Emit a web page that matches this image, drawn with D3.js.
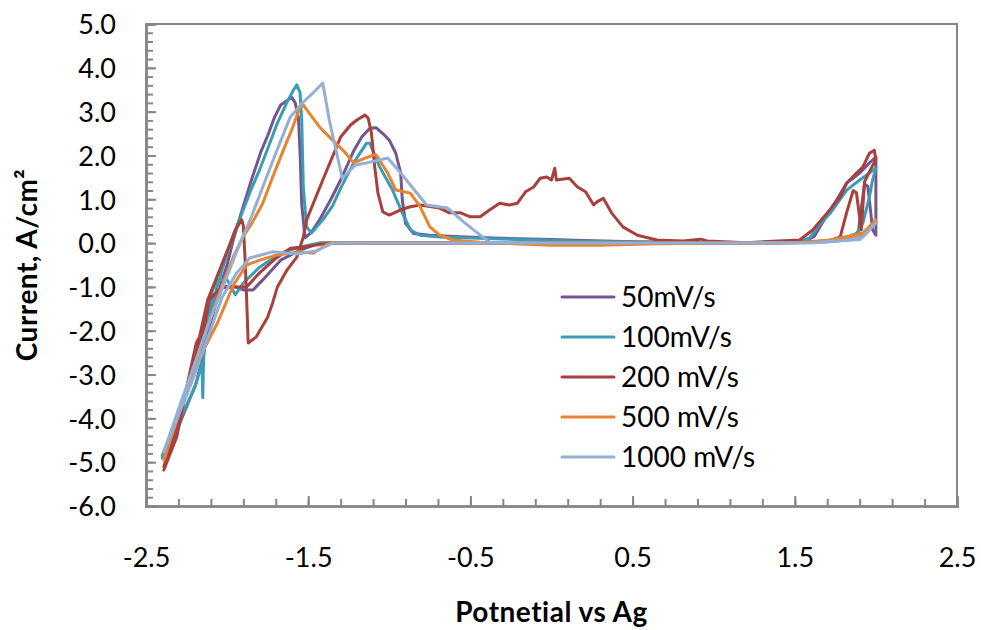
<!DOCTYPE html>
<html>
<head>
<meta charset="utf-8">
<script src="https://cdn.jsdelivr.net/npm/d3@7/dist/d3.min.js"></script>
<style>
  html, body { margin: 0; padding: 0; background: #fff; }
  svg { display: block; font-family: Lato, "Open Sans", sans-serif; }
</style>
</head>
<body>
<svg id="chart" width="981" height="630"></svg>
<script>
// Cyclic voltammograms at several scan rates: [potential vs Ag (V), current (A/cm²)]
const cv50 = [
  [-2.39,-4.92],[-2.3,-3.95],[-2.2,-2.95],[-2.12,-1.95],[-2.06,-1.2],[-2.0,-0.5],[-1.96,0.1],[-1.92,0.6],
  [-1.85,1.44],[-1.79,2.1],[-1.75,2.45],[-1.71,2.85],[-1.67,3.15],[-1.62,3.28],[-1.60,3.32],[-1.58,3.2],
  [-1.56,2.85],[-1.55,2.05],[-1.54,0.9],[-1.52,0.12],[-1.48,0.25],[-1.43,0.53],[-1.36,1.0],[-1.30,1.44],
  [-1.22,2.1],[-1.17,2.42],[-1.12,2.62],[-1.08,2.63],[-1.04,2.5],[-1.0,2.35],[-0.96,2.05],[-0.93,1.6],
  [-0.92,1.0],[-0.9,0.45],[-0.85,0.22],[-0.75,0.18],[-0.6,0.15],[-0.4,0.12],[-0.2,0.1],[0.0,0.08],
  [0.2,0.06],[0.5,0.03],[0.8,0.02],[1.2,0.01],[1.55,0.02],[1.62,0.15],[1.70,0.65],[1.76,1.0],[1.82,1.37],
  [1.90,1.6],[1.96,1.83],[2.0,1.96],[2.0,0.18],
  [1.98,0.3],[1.95,1.3],[1.93,1.35],[1.91,0.8],[1.89,0.2],[1.85,0.08],[1.7,0.03],[1.2,0.0],[0.5,0.0],
  [-0.5,0.0],[-1.0,0.0],[-1.3,0.0],[-1.43,0.0],[-1.55,-0.16],[-1.67,-0.39],[-1.78,-0.84],[-1.84,-1.07],
  [-1.9,-1.07],[-1.96,-0.98],[-2.04,-1.0],[-2.1,-1.8],[-2.19,-3.19],[-2.29,-4.1],[-2.38,-4.95]
];
const cv100 = [
  [-2.40,-4.85],[-2.3,-3.9],[-2.2,-2.9],[-2.1,-1.5],[-2.03,-0.6],[-1.97,0.1],[-1.92,0.57],[-1.86,1.15],
  [-1.80,1.67],[-1.74,2.25],[-1.69,2.74],[-1.63,3.22],[-1.59,3.5],[-1.57,3.61],[-1.55,3.43],[-1.54,2.81],
  [-1.53,1.28],[-1.51,0.37],[-1.48,0.23],[-1.41,0.53],[-1.35,0.85],[-1.30,1.25],[-1.22,1.83],[-1.14,2.28],
  [-1.12,2.28],[-1.06,1.74],[-0.98,1.21],[-0.92,0.69],[-0.87,0.30],[-0.81,0.18],[-0.69,0.14],[-0.44,0.11],
  [-0.2,0.08],[0.2,0.04],[0.6,0.02],[1.0,0.01],[1.5,0.02],[1.59,0.11],[1.65,0.4],[1.72,0.69],[1.82,1.21],
  [1.90,1.44],[1.96,1.6],[2.0,1.71],
  [1.98,1.45],[1.96,1.05],[1.92,0.46],[1.88,0.22],[1.8,0.1],[1.6,0.02],[1.0,0.0],[0.0,0.01],[-1.0,0.01],
  [-1.43,0.0],[-1.55,-0.09],[-1.67,-0.23],[-1.80,-0.55],[-1.90,-0.91],[-1.95,-1.18],[-2.0,-0.84],
  [-2.06,-0.84],[-2.09,-1.07],[-2.12,-1.6],[-2.145,-2.65],[-2.15,-3.53],[-2.155,-2.75],[-2.2,-3.3],
  [-2.3,-4.1],[-2.40,-4.9]
];
const cv200 = [
  [-2.39,-5.18],[-2.31,-4.42],[-2.25,-3.3],[-2.19,-2.28],[-2.17,-2.14],[-2.12,-1.30],[-2.07,-0.84],
  [-2.03,-0.46],[-1.98,0.0],[-1.95,0.3],[-1.91,0.53],[-1.90,0.4],[-1.89,-0.3],[-1.88,-1.23],[-1.87,-2.28],
  [-1.82,-2.14],[-1.75,-1.69],[-1.72,-1.37],[-1.69,-1.0],[-1.63,-0.61],[-1.57,-0.32],[-1.53,0.14],
  [-1.51,0.53],[-1.41,1.44],[-1.30,2.42],[-1.24,2.69],[-1.20,2.81],[-1.15,2.92],[-1.13,2.85],[-1.11,2.51],
  [-1.09,1.74],[-1.07,1.14],[-1.04,0.71],[-1.0,0.64],[-0.93,0.76],[-0.87,0.83],[-0.81,0.87],[-0.69,0.80],
  [-0.63,0.69],[-0.56,0.69],[-0.50,0.60],[-0.44,0.60],[-0.38,0.76],[-0.32,0.91],[-0.26,0.87],[-0.21,0.91],
  [-0.16,1.17],[-0.11,1.28],[-0.07,1.48],[-0.03,1.51],[0.0,1.44],[0.02,1.71],[0.03,1.44],[0.11,1.48],
  [0.16,1.28],[0.21,1.17],[0.26,0.87],[0.28,0.94],[0.32,1.02],[0.37,0.69],[0.44,0.37],[0.53,0.18],
  [0.65,0.07],[0.81,0.05],[0.92,0.09],[0.96,0.05],[1.2,0.01],[1.53,0.07],[1.61,0.30],[1.70,0.69],
  [1.78,1.05],[1.82,1.37],[1.88,1.60],[1.92,1.74],[1.96,2.05],[1.99,2.12],
  [2.0,1.9],[1.97,1.7],[1.93,1.4],[1.91,0.3],[1.88,1.15],[1.86,1.2],[1.82,0.7],[1.78,0.14],[1.7,0.04],
  [1.4,0.0],[0.5,0.0],[-0.5,0.0],[-1.18,0.0],[-1.37,0.0],[-1.53,-0.09],[-1.61,-0.12],[-1.70,-0.35],
  [-1.80,-0.68],[-1.88,-1.0],[-1.96,-1.0],[-2.04,-1.02],[-2.11,-1.30],[-2.14,-1.9],[-2.2,-2.6],
  [-2.3,-4.0],[-2.39,-5.1]
];
const cv500 = [
  [-2.39,-4.95],[-2.3,-3.9],[-2.21,-2.9],[-2.12,-1.9],[-2.03,-0.95],[-1.96,-0.3],[-1.9,0.15],[-1.84,0.5],
  [-1.78,0.91],[-1.72,1.5],[-1.66,2.06],[-1.60,2.6],[-1.55,3.11],[-1.53,3.15],[-1.48,2.9],[-1.43,2.65],
  [-1.35,2.35],[-1.28,2.1],[-1.22,1.83],[-1.16,1.92],[-1.10,2.01],[-1.08,2.01],[-1.01,1.60],[-0.96,1.21],
  [-0.87,1.14],[-0.81,0.83],[-0.75,0.37],[-0.69,0.18],[-0.61,0.07],[-0.44,0.02],[-0.2,-0.02],[0.0,-0.05],
  [0.3,-0.05],[0.6,-0.02],[1.0,0.0],[1.5,0.01],[1.72,0.07],[1.86,0.18],[1.92,0.23],[2.0,0.53],
  [1.95,0.25],[1.85,0.12],[1.7,0.04],[1.5,0.0],[0.5,0.0],[-0.5,0.0],[-1.37,0.0],[-1.47,-0.23],
  [-1.55,-0.2],[-1.69,-0.27],[-1.80,-0.39],[-1.88,-0.5],[-1.96,-0.95],[-2.06,-1.83],[-2.21,-2.9],
  [-2.39,-4.95]
];
const cv1000 = [
  [-2.39,-4.77],[-2.3,-3.8],[-2.2,-2.75],[-2.1,-1.7],[-2.0,-0.75],[-1.92,0.0],[-1.85,0.6],[-1.78,1.28],
  [-1.70,2.05],[-1.61,2.88],[-1.53,3.22],[-1.47,3.43],[-1.41,3.65],[-1.37,2.81],[-1.29,1.48],[-1.21,1.78],
  [-1.14,1.83],[-1.01,1.94],[-0.93,1.60],[-0.77,0.87],[-0.64,0.80],[-0.54,0.48],[-0.44,0.18],[-0.38,0.02],
  [0.0,0.0],[1.0,0.0],[1.6,0.01],[1.82,0.07],[1.92,0.14],[2.0,0.46],
  [1.9,0.08],[1.6,0.0],[0.5,0.0],[-0.5,0.0],[-0.85,0.0],[-1.35,0.0],[-1.45,-0.18],[-1.57,-0.25],
  [-1.72,-0.2],[-1.86,-0.34],[-1.94,-0.68],[-2.03,-1.23],[-2.2,-3.0],[-2.39,-4.77]
];

const seriesNames = ["50mV/s", "100mV/s", "200 mV/s", "500 mV/s", "1000 mV/s"];
const seriesData = [cv50, cv100, cv200, cv500, cv1000];
const seriesColors = ["#73558f", "#3a9cb5", "#a8403c", "#e8832f", "#93afd4"];

const xMajorTicks = [-2.5, -1.5, -0.5, 0.5, 1.5, 2.5];
const yMajorTicks = [5, 4, 3, 2, 1, 0, -1, -2, -3, -4, -5, -6];

const xTitle = "Potnetial vs Ag";
const yTitle = "Current, A/cm²";

// ---- layout ----
const plot = { left: 146, top: 24, right: 957, bottom: 506 };
const svg = d3.select("#chart");
const axisColor = "#868686";

const x = d3.scaleLinear().domain([-2.5, 2.5]).range([plot.left, plot.right]);
const y = d3.scaleLinear().domain([-6, 5]).range([plot.bottom, plot.top]);

const xMinor = d3.range(-2.5, 2.5001, 0.2).map(v => +v.toFixed(2));
const yMinor = d3.range(-6, 5.0001, 0.2).map(v => +v.toFixed(2));

// frame (top and right edges)
svg.append("path")
  .attr("d", `M${plot.left},${plot.top}H${plot.right}V${plot.bottom}`)
  .attr("fill", "none").attr("stroke", axisColor).attr("stroke-width", 2);

// minor ticks
const xMinorAxis = svg.append("g").attr("transform", `translate(0,${plot.bottom})`)
  .call(d3.axisBottom(x).tickValues(xMinor).tickSize(-7).tickFormat(""));
const yMinorAxis = svg.append("g").attr("transform", `translate(${plot.left},0)`)
  .call(d3.axisLeft(y).tickValues(yMinor).tickSize(-7).tickFormat(""));

// major ticks with labels
const fmt = v => d3.format(".1f")(v).replace("−", "-");
const xAxis = svg.append("g").attr("transform", `translate(0,${plot.bottom})`)
  .call(d3.axisBottom(x).tickValues(xMajorTicks).tickSize(-10).tickFormat(fmt));
const yAxis = svg.append("g").attr("transform", `translate(${plot.left},0)`)
  .call(d3.axisLeft(y).tickValues(yMajorTicks).tickSize(-10).tickFormat(fmt));

[xMinorAxis, yMinorAxis, xAxis, yAxis].forEach(g => {
  g.selectAll(".domain").attr("stroke", axisColor).attr("stroke-width", 2.5);
  g.selectAll(".tick line").attr("stroke", axisColor).attr("stroke-width", 2);
});

xAxis.selectAll(".tick text")
  .attr("y", 61).attr("dy", 0)
  .attr("font-size", 27).attr("fill", "#000")
  .attr("font-family", "Lato, sans-serif");
yAxis.selectAll(".tick text")
  .attr("x", -30).attr("dy", "0.36em")
  .attr("font-size", 27).attr("fill", "#000")
  .attr("font-family", "Lato, sans-serif");

// axis titles
svg.append("text")
  .attr("x", (plot.left + plot.right) / 2).attr("y", 622)
  .attr("text-anchor", "middle").attr("font-size", 28).attr("font-weight", "bold")
  .attr("letter-spacing", 0.5)
  .text(xTitle);
svg.append("text")
  .attr("transform", `translate(37,${(plot.top + plot.bottom) / 2}) rotate(-90)`)
  .attr("text-anchor", "middle").attr("font-size", 28).attr("font-weight", "bold")
  .attr("letter-spacing", 0.5)
  .text(yTitle);

// curves
const line = d3.line().x(d => x(d[0])).y(d => y(d[1]));
svg.append("g").selectAll("path")
  .data(seriesData)
  .join("path")
  .attr("d", line)
  .attr("fill", "none")
  .attr("stroke", (d, i) => seriesColors[i])
  .attr("stroke-width", 3)
  .attr("stroke-linejoin", "round")
  .attr("stroke-linecap", "round");

// legend
const legend = svg.append("g").attr("transform", "translate(562,297)");
const rows = legend.selectAll("g").data(seriesNames).join("g")
  .attr("transform", (d, i) => `translate(0,${i * 40})`);
rows.append("line")
  .attr("x1", 0).attr("x2", 52).attr("y1", 0).attr("y2", 0)
  .attr("stroke", (d, i) => seriesColors[i]).attr("stroke-width", 3)
  .attr("stroke-linecap", "round");
rows.append("text")
  .attr("x", 59).attr("dy", "0.36em")
  .attr("font-size", 28)
  .text(d => d);
</script>
</body>
</html>
